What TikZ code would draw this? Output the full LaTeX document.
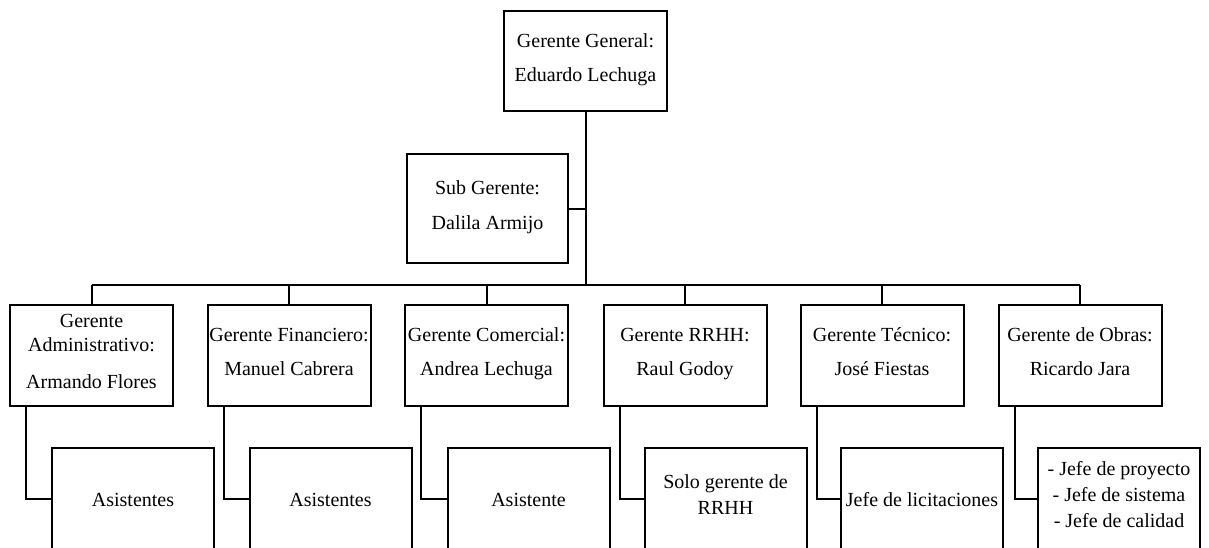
\documentclass[tikz,border=0pt]{standalone}
\usepackage{fontspec}
\setmainfont{Liberation Serif}
\begin{document}
\begin{tikzpicture}[x=1pt,y=-1pt,
  box/.style={draw, line width=2pt, rectangle, inner sep=0pt, align=center,
    minimum width=163pt, minimum height=101pt,
    font=\fontsize{20}{26}\selectfont,
    execute at begin node=\rule{0pt}{24pt}, execute at end node=\strut},
  lowbox/.style={box, minimum width=162pt},
  conn/.style={line width=2pt}]
\useasboundingbox (0,0) rectangle (1209,547);
\clip (0,0) rectangle (1209,547);
\node[box, minimum height=100pt] (gg) at (585.5,61) {Gerente General:\\[8pt]Eduardo Lechuga};
\node[box, minimum width=161pt, minimum height=109pt] (sg) at (487.5,208.5) {Sub Gerente:\\[9pt]Dalila Armijo};
\coordinate (bus) at (585.5,285);
\node[box] (m1) at (91.5,355.5) {Gerente\\[-2pt]Administrativo:\\[11pt]Armando Flores};
\node[box] (m2) at (289,355.5) {Gerente Financiero:\\[8pt]Manuel Cabrera};
\node[box] (m3) at (486.5,355.5) {Gerente Comercial:\\[8pt]Andrea Lechuga};
\node[box] (m4) at (685,355.5) {Gerente RRHH:\\[8pt]Raul Godoy};
\node[box] (m5) at (882,355.5) {Gerente Técnico:\\[8pt]José Fiestas};
\node[box] (m6) at (1080,355.5) {Gerente de Obras:\\[8pt]Ricardo Jara};
\node[lowbox] (l1) at (133,498.5) {Asistentes};
\node[lowbox] (l2) at (330.5,498.5) {Asistentes};
\node[lowbox] (l3) at (528.5,498.5) {Asistente};
\node[lowbox] (l4) at (725.5,498.5) {Solo gerente de\\RRHH};
\node[lowbox] (l5) at (922,498.5) {Jefe de licitaciones};
\node[lowbox] (l6) at (1119,498.5) {- Jefe de proyecto\\- Jefe de sistema\\- Jefe de calidad};
\draw[conn] (gg.south) -- (gg.south |- bus);
\draw[conn] (sg.east) -- (sg.east -| gg.south);
\draw[conn] (m1.north |- bus) -- (m6.north |- bus);
\foreach \i in {1,...,6}{
  \draw[conn] (m\i.north |- bus) -- (m\i.north);
  \draw[conn] ([xshift=17pt]m\i.south west) |- (l\i.west);
}
\end{tikzpicture}
\end{document}
